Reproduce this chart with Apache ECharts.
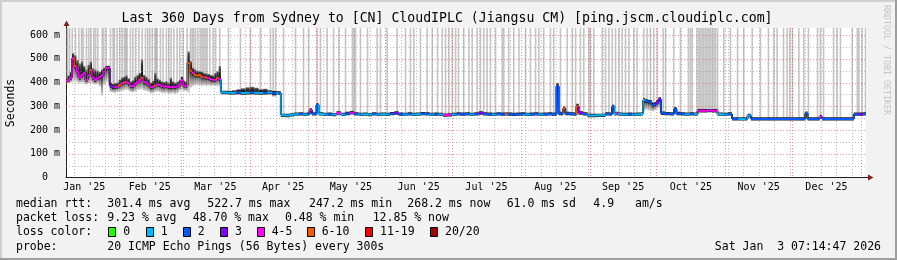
<!DOCTYPE html>
<html><head><meta charset="utf-8">
<script src="https://cdn.jsdelivr.net/npm/echarts@6/dist/echarts.min.js"></script>
<style>html,body{margin:0;padding:0;background:#f2f2f2}#c{width:897px;height:260px}</style>
</head><body><div id="c"></div>
<script>
// ---------- DATA ----------
const xMin = 7.302, xMax = 367.302;   // day-of-2025 (0 = Jan 1 2025)
const yMax = 630;                     // ms
const monthBoundaries = [31,59,90,120,151,181,212,243,273,304,334,365];
const monthMids = [15.5,45,74.5,105,135.5,166,196.5,227.5,258,288.5,319,349.5];
const monthLabels = ["Jan '25","Feb '25","Mar '25","Apr '25","May '25","Jun '25","Jul '25","Aug '25","Sep '25","Oct '25","Nov '25","Dec '25"];
const weekLines = [11,18,25,32,39,46,53,60,67,74,81,88,95,102,109,116,123,130,137,144,151,158,165,172,179,186,193,200,207,214,221,228,235,242,249,256,263,270,277,284,291,298,305,312,319,326,333,340,347,354,361];
const yTicks = [0,100,200,300,400,500,600];
const yTickLabels = ["0  ","100 m","200 m","300 m","400 m","500 m","600 m"];
const yMajor = [100,200,300,400,500,600];
const yMinor = [50,150,250,350,450,550];

// median rtt (ms) and loss class per sample
const days = [7.3,8,9,10,11,12,13,14,15,16,17,18,19,20,21,22,23,24,25,26,27,28,29,30,31,32,33,34,35,36,37,38,39,40,41,42,43,44,45,46,47,48,49,50,51,52,53,54,55,56,57,58,59,60,61,62,63,64,65,66,67,68,69,70,71,72,73,74,75,76,77,
  78,80,82,84,86,88,90,92,94,96,98,100,102,103,104,106,108,110,112,114,116,117,118,120,121,123,125,127,129,131,133,135,137,139,141,143,145,147,149,151,153,155,157,159,161,163,165,167,169,171,173,175,177,179,181,183,185,187,189,191,193,195,197,199,201,203,205,206,208,210,212,214,216,218,220,222,224,226,228,229,231,232,234,236,237,238,240,242,244,246,248,250,252,253,254,255,256,258,260,262,264,266,267,268,269,270,271,272,273,274,275,277,279,281,282,284,286,288,290,291.5,294,296,298,300.5,303,305,307,310,313,314,315.5,320,325,330,335,340,341,346.5,347.5,352,357,361.8,364,366];
const median = [408,411,420,503,470,446,420,432,440,411,430,453,420,411,418,423,430,446,461,461,386,380,380,382,390,397,400,404,398,386,386,395,404,412,420,402,400,392,380,382,388,392,390,385,383,384,380,380,382,380,384,392,411,388,386,482,450,440,432,430,432,425,423,420,418,414,412,411,420,414,358,
  358,357,357,358,356,357,358,357,356,357,358,355,357,356,262,261,264,267,268,266,270,285,268,306,268,266,267,265,272,266,270,273,268,266,267,265,268,266,267,266,269,272,267,266,268,266,267,269,268,266,267,266,263,264,266,268,267,268,266,268,272,268,267,266,268,267,268,267,266,267,268,266,267,268,266,267,268,267,385,270,292,270,268,267,300,272,268,261,261,262,262,268,267,299,268,270,267,266,267,266,267,268,327,322,320,318,306,308,318,331,271,269,268,290,270,268,267,268,267,281,281,282,281,267,266,268,247,247,247,261,247,247,247,247,247,271,247,257,247,247,247,267,267,268];
const loss = [4,4,4,4,5,4,4,4,4,4,4,5,4,4,4,4,4,4,4,4,3,3,4,4,5,4,5,4,4,4,4,4,4,4,5,4,4,4,4,4,5,4,4,4,4,4,4,4,4,4,4,4,4,4,4,5,5,4,5,5,5,5,4,5,4,4,4,4,5,4,1,
  1,1,1,2,1,1,2,1,1,2,1,2,1,2,1,1,1,1,2,1,2,4,2,2,1,1,2,1,4,1,2,4,2,1,1,1,2,1,1,1,2,3,2,1,2,1,1,2,2,1,2,1,4,4,1,2,2,2,1,2,3,2,2,1,2,2,5,2,2,2,2,1,2,2,1,2,2,2,2,2,5,2,2,2,5,3,2,1,1,1,1,2,2,2,1,4,1,1,2,1,1,1,1,2,2,2,2,2,3,3,2,2,2,2,2,2,1,2,1,4,4,4,4,1,1,2,2,1,2,1,2,2,2,2,2,2,2,4,2,2,2,2,3,2];

// smoke (ping spread) envelope
const smokeDays = [8,9,10,11,12,13,14,15,16,17,18,19,20,21,22,23,24,25,26,27,28,29,30,31,32,33,34,35,36,37,38,39,40,41,42,43,44,45,46,47,48,49,50,51,52,53,54,55,56,57,58,59,60,61,62,63,64,65,66,67,68,69,70,71,72,73,74,75,76,77,
  80,82,84,86,88,90,92,94,96,98,100,102,117,120,228,231,237,253,267,268,269,270,271,272,273,274,281,340];
const smokeLo = [398,400,404,405,400,398,400,396,392,395,398,396,392,395,385,345,390,400,402,360,358,356,360,362,365,368,370,366,360,358,362,368,370,372,366,364,360,355,356,360,362,360,356,355,357,352,354,356,352,356,365,370,365,362,356,378,385,388,390,388,386,388,385,388,386,388,386,385,386,352,
  350,350,350,349,350,350,350,350,350,350,340,350,262,262,262,262,262,262,280,285,282,280,278,282,290,295,265,245];
const smokeHi = [430,445,524,515,495,480,490,470,455,475,488,460,455,450,445,455,462,470,472,400,395,398,400,412,420,425,430,418,405,410,425,432,440,498,432,425,415,400,408,440,418,412,405,402,406,398,420,405,400,404,410,425,408,405,531,490,462,455,450,448,446,440,438,436,432,430,440,448,470,365,
  366,368,372,376,380,382,378,372,374,368,366,364,288,308,398,296,312,301,333,330,326,322,315,318,325,336,293,272];

// full-height grey traces
const traceDays = [7.5,8.0,8.9,10.1,11.6,13.1,14.3,15.0,16.5,17.6,18.6,19.8,20.6,21.6,23.6,24.3,25.4,27.3,28.5,29.1,30.3,31.5,32.6,33.6,34.2,34.8,36.3,37.4,38.6,40.1,41.6,43.1,44.1,45.0,46.1,47.3,47.8,48.3,49.8,51.0,52.5,53.6,54.6,55.8,57.3,58.5,60.0,61.8,63.3,64.1,64.8,65.6,66.6,67.8,68.6,69.3,70.1,70.8,72.0,73.5,74.6,76.5,
  80.4,85.8,90.3,94.8,99.3,100.5,101.6,105.2,110.6,114.2,116.5,120.3,121.8,124.8,127.7,130.1,133.1,136.2,136.9,137.6,139.8,143.0,147.3,148.8,151.8,156.3,160.1,162.3,163.8,166.8,169.8,172.1,174.5,176.6,178.1,179.6,181.1,182.6,183.9,186.3,188.6,190.1,192.3,193.8,195.3,196.8,198.3,200.6,203.6,204.3,206.5,208.8,211.1,214.1,216.3,218.6,220.1,222.3,225.3,226.8,229.8,232.8,235.1,236.6,238.8,240.3,242.6,243.3,244.8,248.6,250.1,251.6,253.1,254.6,256.1,257.6,259.1,260.6,262.8,264.3,267.3,268.8,270.3,271.8,273.4,276.0,277.1,280.8,283.8,287.4,288.3,289.1,291.3,292.1,292.8,293.6,294.3,295.1,295.8,296.6,297.3,298.1,298.9,299.6,300.5,303.3,306.3,309.5,312.3,316.1,319.8,323.4,325.8,327.3,330.2,331.8,333.0,334.2,337.1,339.3,341.4,345.5,346.8,348.2,352.7,354.3,355.8,361.1,363.4,364.1,365.6,367.1];

// legend / footer texts
const lossColors = ['#26ff00','#00b8ff','#0059ff','#7e00ff','#ff00ff','#ff5500','#ff0000','#a10000'];
const lossLabels = ['0','1','2','3','4-5','6-10','11-19','20/20'];
const titleText = 'Last 360 Days from Sydney to [CN] CloudIPLC (Jiangsu CM) [ping.jscm.cloudiplc.com]';
const rttStats = ['301.4 ms avg','522.7 ms max','247.2 ms min','268.2 ms now','61.0 ms sd','4.9','am/s'];
const lossStats = ['9.23 % avg','48.70 % max','0.48 % min','12.85 % now'];
const probeText = '20 ICMP Echo Pings (56 Bytes) every 300s';
const dateText = 'Sat Jan  3 07:14:47 2026';

// ---------- RENDER ----------
const FONT = '"DejaVu Sans Mono", monospace';
function idxAt(d){ let i = 0; while (i + 1 < days.length && days[i + 1] <= d) i++; return i; }

const chart = echarts.init(document.getElementById('c'), null, {renderer:'canvas'});

function vGrid(color){
  return function(params, api){
    const cs = params.coordSys;
    const x = Math.round(api.coord([api.value(0), 0])[0]) + 0.5;
    return {type:'line', silent:true, shape:{x1:x, y1:cs.y, x2:x, y2:cs.y + cs.height},
      style:{stroke:color, lineWidth:1, lineDash:[1,2]}};
  };
}
function hGrid(color){
  return function(params, api){
    const cs = params.coordSys;
    const y = Math.round(api.coord([xMin, api.value(0)])[1]) + 0.5;
    return {type:'line', silent:true, shape:{x1:cs.x, y1:y, x2:cs.x + cs.width, y2:y},
      style:{stroke:color, lineWidth:1, lineDash:[1,2]}};
  };
}
const minorCol = 'rgba(143,143,143,0.6)';
const majorCol = 'rgba(222,79,79,0.6)';

function medianSeg(under){
  return function(params, api){
    const i = params.dataIndex;
    const d0 = days[i], d1 = (i + 1 < days.length) ? days[i + 1] : xMax;
    const p0 = api.coord([d0, median[i]]), p1 = api.coord([d1, median[i]]);
    const ch = [];
    const col = under ? '#1c1c1c' : lossColors[loss[i]];
    ch.push({type:'line', shape:{x1:p0[0], y1:p0[1], x2:p1[0], y2:p1[1]},
      style:{stroke:col, lineWidth: under ? 3.4 : 2}});
    if (i + 1 < days.length) {
      const p2 = api.coord([d1, median[i + 1]]);
      ch.push({type:'line', shape:{x1:p1[0], y1:p1[1], x2:p2[0], y2:p2[1]},
        style:{stroke: under ? '#1c1c1c' : lossColors[loss[i + 1]], lineWidth: under ? 2 : 1.2}});
    }
    return {type:'group', silent:true, children:ch};
  };
}

const option = {
  animation:false,
  backgroundColor:'#f2f2f2',
  grid:{left:66, top:28, width:800, height:149.5, show:true, backgroundColor:'#ffffff', borderWidth:0},
  xAxis:{type:'value', min:xMin, max:xMax, splitLine:{show:false}, axisTick:{show:false},
    axisLine:{show:true, lineStyle:{color:'#1f1f1f', width:1}},
    axisLabel:{customValues:monthMids, margin:5, color:'#000', fontFamily:FONT, fontSize:10,
      formatter:v => monthLabels[monthMids.indexOf(v)]}},
  yAxis:{type:'value', min:0, max:yMax, splitLine:{show:false}, axisTick:{show:false},
    axisLine:{show:true, lineStyle:{color:'#1f1f1f', width:1}},
    axisLabel:{customValues:yTicks, margin:6, color:'#000', fontFamily:FONT, fontSize:10,
      formatter:v => { const k = yTicks.indexOf(v); return k < 0 ? '' : yTickLabels[k]; }}},
  series:[
    {type:'custom', z:2, clip:true, data:traceDays.map(d => [d]), renderItem:function(params, api){
      const d = traceDays[params.dataIndex];
      const m = median[idxAt(d)];
      const x = api.coord([d, 0])[0];
      const yB = api.coord([d, m])[1];
      const yT = params.coordSys.y;
      return {type:'rect', silent:true, shape:{x:x - 0.8, y:yT, width:1.6, height:yB - yT},
        style:{fill:'rgba(140,140,140,0.5)'}};
    }},
    {type:'custom', z:3, clip:true, data:smokeDays.map((d,i) => [d, smokeHi[i]]), renderItem:function(params, api){
      const i = params.dataIndex;
      const d = smokeDays[i];
      let w = (i + 1 < smokeDays.length) ? smokeDays[i + 1] - d : 1;
      if (w > 2) w = 1;
      const m = median[idxAt(d)];
      const xL = api.coord([d, 0])[0], xR = api.coord([d + w, 0])[0];
      const yHi = api.coord([d, smokeHi[i]])[1], yM = api.coord([d, m])[1], yLo = api.coord([d, smokeLo[i]])[1];
      const ch = [];
      if (yM - yHi > 0) ch.push({type:'rect', shape:{x:xL, y:yHi, width:xR - xL, height:yM - yHi},
        style:{fill:new echarts.graphic.LinearGradient(0,0,0,1,[{offset:0,color:'#808080'},{offset:0.3,color:'#333'},{offset:1,color:'#101010'}])}});
      if (yLo - yM > 0) ch.push({type:'rect', shape:{x:xL, y:yM, width:xR - xL, height:yLo - yM},
        style:{fill:new echarts.graphic.LinearGradient(0,0,0,1,[{offset:0,color:'#222'},{offset:0.5,color:'#888'},{offset:1,color:'#d6d6d6'}])}});
      return {type:'group', silent:true, children:ch};
    }},
    {type:'custom', z:4, data:weekLines.map(d => [d]), renderItem:vGrid(minorCol)},
    {type:'custom', z:4, data:yMinor.map(v => [v]), renderItem:hGrid(minorCol)},
    {type:'custom', z:5, data:monthBoundaries.map(d => [d]), renderItem:vGrid(majorCol)},
    {type:'custom', z:5, data:yMajor.map(v => [v]), renderItem:hGrid(majorCol)},
    {type:'custom', z:6, clip:true, data:days.map((d,i) => [d, median[i]]), renderItem:medianSeg(true)},
    {type:'custom', z:7, clip:true, data:days.map((d,i) => [d, median[i]]), renderItem:medianSeg(false)}
  ],
  graphic:[]
};

// static decorations
const g = [];
function txt(x, y, s, size, extra){
  return Object.assign({type:'text', x:x, y:y, silent:true,
    style:{text:s, font:size + 'px ' + FONT, fill:'#000', align:'left', verticalAlign:'middle'}}, extra || {});
}
g.push({type:'rect', silent:true, shape:{x:0,y:0,width:897,height:2}, style:{fill:'#cfcfcf'}});
g.push({type:'rect', silent:true, shape:{x:0,y:0,width:2,height:260}, style:{fill:'#cfcfcf'}});
g.push({type:'rect', silent:true, shape:{x:0,y:258,width:897,height:2}, style:{fill:'#9e9e9e'}});
g.push({type:'rect', silent:true, shape:{x:895,y:0,width:2,height:260}, style:{fill:'#9e9e9e'}});
g.push({type:'text', x:447, y:19, silent:true, style:{text:titleText, font:'13.2px ' + FONT, fill:'#000', align:'center', verticalAlign:'middle'}});
g.push({type:'text', x:11, y:103, rotation:Math.PI/2, silent:true, style:{text:'Seconds', font:'11.5px ' + FONT, fill:'#000', align:'center', verticalAlign:'middle'}});
g.push({type:'text', x:886, y:60, rotation:-Math.PI/2, silent:true, style:{text:'RRDTOOL / TOBI OETIKER', font:'8.3px ' + FONT, fill:'#c4c4c4', align:'center', verticalAlign:'middle'}});
// axis extensions & arrows
g.push({type:'line', silent:true, shape:{x1:866, y1:177.5, x2:869, y2:177.5}, style:{stroke:'#1f1f1f', lineWidth:1}});
g.push({type:'polygon', silent:true, shape:{points:[[868,174.5],[868,180.5],[873.5,177.5]]}, style:{fill:'#801f1f'}});
g.push({type:'line', silent:true, shape:{x1:66.5, y1:28, x2:66.5, y2:25}, style:{stroke:'#1f1f1f', lineWidth:1}});
g.push({type:'polygon', silent:true, shape:{points:[[63.5,26],[69.5,26],[66.5,20.5]]}, style:{fill:'#801f1f'}});
// legend rows
const LF = 11.5;
g.push(txt(16, 204.3, 'median rtt:', LF));
[107.3,207.3,309,407.3,506.7,593.3,635].forEach((x,i) => g.push(txt(x, 204.3, rttStats[i], LF)));
g.push(txt(16, 218.3, 'packet loss:', LF));
[107.3,192.7,285,372.7].forEach((x,i) => g.push(txt(x, 218.3, lossStats[i], LF)));
g.push(txt(16, 232, 'loss color:', LF));
const boxX = [108.3,145.7,182.7,220,256.7,306.7,365,430];
boxX.forEach((x,i) => {
  g.push({type:'rect', silent:true, shape:{x:Math.round(x)+0.5, y:227.5, width:7, height:9}, style:{fill:lossColors[i], stroke:'#000', lineWidth:1}});
  g.push(txt(x + 15, 232, lossLabels[i], LF));
});
g.push(txt(16, 246.7, 'probe:', LF));
g.push(txt(107.3, 246.7, probeText, LF));
g.push({type:'text', x:881, y:246.7, silent:true, style:{text:dateText, font:LF + 'px ' + FONT, fill:'#000', align:'right', verticalAlign:'middle'}});
option.graphic = g;

chart.setOption(option);
</script>
</body></html>
